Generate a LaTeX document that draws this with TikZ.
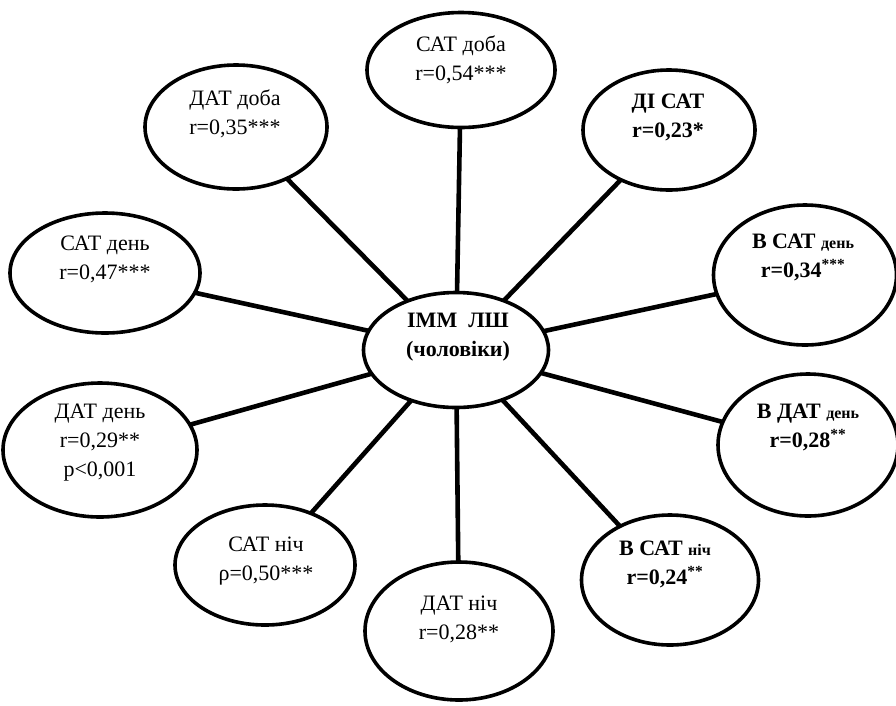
\documentclass[tikz,border=0pt]{standalone}
\usepackage{fontspec}
\setmainfont{Liberation Serif}
\usetikzlibrary{shapes.geometric}
\begin{document}
\begin{tikzpicture}[x=1pt,y=-1pt,
  oval/.style={ellipse,draw=black,line width=3.6pt,fill=white,inner sep=0pt},
  lbl/.style={align=center,font=\fontsize{22}{29}\selectfont,inner sep=0pt},
  blbl/.style={lbl,font=\fontsize{22}{29}\selectfont\bfseries},
  link/.style={line width=4.6pt}]
\useasboundingbox (0,0) rectangle (896,705);
% ellipse centres
\coordinate (cC) at (456,350);
\coordinate (c1) at (461,70);
\coordinate (c2) at (669,130);
\coordinate (c3) at (805,275);
\coordinate (c4) at (808,445);
\coordinate (c5) at (670,580);
\coordinate (c6) at (459,631);
\coordinate (c7) at (265,565);
\coordinate (c8) at (100,450);
\coordinate (c9) at (105,273);
\coordinate (c10) at (236,127);
% connectors (behind ellipses)
\foreach \i in {1,...,10} {\draw[link] (cC) -- (c\i);}
\node[oval,minimum width=188pt,minimum height=115pt] (e1) at (c1) {};
\node[oval,minimum width=172pt,minimum height=120pt] (e2) at (c2) {};
\node[oval,minimum width=183pt,minimum height=140pt] (e3) at (c3) {};
\node[oval,minimum width=180pt,minimum height=142pt] (e4) at (c4) {};
\node[oval,minimum width=177pt,minimum height=130pt] (e5) at (c5) {};
\node[oval,minimum width=188pt,minimum height=138pt] (e6) at (c6) {};
\node[oval,minimum width=180pt,minimum height=120pt] (e7) at (c7) {};
\node[oval,minimum width=194pt,minimum height=134pt] (e8) at (c8) {};
\node[oval,minimum width=190pt,minimum height=120pt] (e9) at (c9) {};
\node[oval,minimum width=182pt,minimum height=124pt] (e10) at (c10) {};
\node[oval,minimum width=185pt,minimum height=115pt] (eC) at (cC) {};
% texts
\node[blbl] (tC) at (458,337) {ІММ\ \ ЛШ\\(чоловіки)};
\node[lbl] (t1) at (461,60) {САТ доба\\r=0,54***};
\node[blbl] (t2) at (668,117) {ДІ САТ\\r=0,23*};
\node[blbl] (t3) at (803,257) {В САТ {\fontsize{16}{18}\selectfont день}\\r=0,34\textsuperscript{***}};
\node[blbl] (t4) at (808,427) {В ДАТ {\fontsize{16}{18}\selectfont день}\\r=0,28\textsuperscript{**}};
\node[blbl] (t5) at (665,564) {В САТ {\fontsize{16}{18}\selectfont ніч}\\r=0,24\textsuperscript{**}};
\node[lbl] (t6) at (459,619) {ДАТ ніч\\r=0,28**};
\node[lbl] (t7) at (266,561) {САТ ніч\\ρ=0,50***};
\node[lbl] (t8) at (100,443) {ДАТ день\\r=0,29**\\p<0,001};
\node[lbl] (t9) at (105,259) {САТ день\\r=0,47***};
\node[lbl] (t10) at (235,114) {ДАТ доба\\r=0,35***};
\end{tikzpicture}
\end{document}
